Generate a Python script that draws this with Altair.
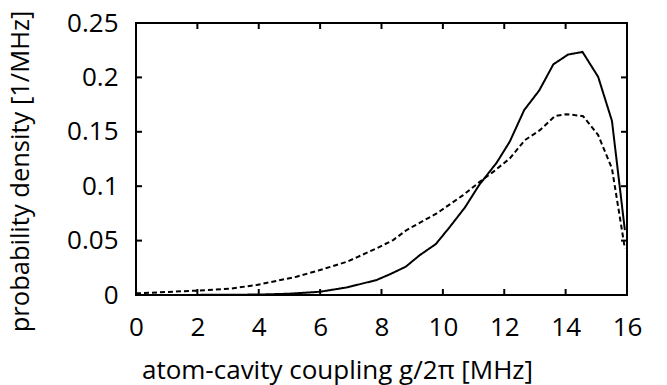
import altair as alt
import pandas as pd

solid_x = [0, 2, 4, 5, 6.0, 6.88, 7.84, 8.27, 8.79, 9.25, 9.77, 10.23, 10.72, 11.18,
           11.75, 12.18, 12.65, 13.14, 13.6, 14.08, 14.55, 15.06, 15.51, 15.93]
solid_y = [0, 0.0001, 0.0004, 0.0012, 0.003, 0.007, 0.0138, 0.019, 0.026, 0.0367, 0.0468,
           0.0627, 0.0805, 0.101, 0.1215, 0.141, 0.170, 0.188, 0.212, 0.221, 0.2234,
           0.2005, 0.160, 0.0597]
dashed_x = [0, 1.98, 3.06, 3.93, 5.23, 6.0, 6.88, 7.84, 8.38, 8.82, 9.8, 10.66, 11.2,
            11.64, 12.18, 12.67, 13.16, 13.65, 14.03, 14.57, 15.06, 15.51, 15.93]
dashed_y = [0.0015, 0.004, 0.0058, 0.0092, 0.0168, 0.023, 0.0306, 0.0429, 0.0505,
            0.0597, 0.075, 0.0918, 0.104, 0.1132, 0.1255, 0.1423, 0.1515, 0.1644,
            0.1662, 0.1644, 0.147, 0.1163, 0.0429]

x_ticks = [0, 2, 4, 6, 8, 10, 12, 14, 16]
y_ticks = [0, 0.05, 0.1, 0.15, 0.2, 0.25]

df = pd.DataFrame({
    "g": solid_x + dashed_x,
    "p": solid_y + dashed_y,
    "series": ["solid"] * len(solid_x) + ["dashed"] * len(dashed_x),
})
xt = pd.DataFrame({"t": x_ticks})
yt = pd.DataFrame({"t": y_ticks})

W, H = 491, 272
FONT = "Open Sans"
FS = 26
TFS = 26
YTFS = 25.5
TS = 6

xscale = alt.Scale(domain=[0, 16], nice=False, zero=False)
yscale = alt.Scale(domain=[0, 0.25], nice=False)

lines = alt.Chart(df).mark_line(color="black", strokeWidth=2).encode(
    x=alt.X("g:Q", scale=xscale,
            axis=alt.Axis(orient="bottom", values=x_ticks, ticks=False, tickSize=0,
                          domain=False, grid=False,
                          labelPadding=19, labelFont=FONT, labelFontSize=FS,
                          labelColor="black", labelFlush=False,
                          title="atom-cavity coupling g/2π [MHz]",
                          titleFont=FONT, titleFontSize=TFS, titleFontWeight="normal",
                          titleColor="black", titleX=201, titleY=83,
                          titleAlign="center", titleBaseline="alphabetic")),
    y=alt.Y("p:Q", scale=yscale,
            axis=alt.Axis(orient="left", values=y_ticks, format="~g", ticks=False,
                          tickSize=0, domain=False,
                          grid=False, labelPadding=18, labelFont=FONT,
                          labelFontSize=FS, labelColor="black", labelFlush=False,
                          labelBaseline="middle",
                          title="probability density [1/MHz]",
                          titleFont=FONT, titleFontSize=YTFS, titleFontWeight="normal",
                          titleColor="black", titleAngle=-90, titleX=-108,
                          titleY=148, titleAlign="center",
                          titleBaseline="alphabetic")),
    strokeDash=alt.StrokeDash("series:N",
                              scale=alt.Scale(domain=["solid", "dashed"],
                                              range=[[1, 0], [5, 3]]),
                              legend=None),
    detail="series:N",
)

# inward tick marks on all four sides of the frame
rule_x = alt.Chart(xt).mark_rule(color="black", strokeWidth=2)
rule_y = alt.Chart(yt).mark_rule(color="black", strokeWidth=2)
bottom_ticks = rule_x.encode(x=alt.X("t:Q", scale=xscale, axis=None),
                             y=alt.value(H), y2=alt.value(H - TS))
top_ticks = rule_x.encode(x=alt.X("t:Q", scale=xscale, axis=None),
                          y=alt.value(0), y2=alt.value(TS))
left_ticks = rule_y.encode(y=alt.Y("t:Q", scale=yscale, axis=None),
                           x=alt.value(0), x2=alt.value(TS))
right_ticks = rule_y.encode(y=alt.Y("t:Q", scale=yscale, axis=None),
                            x=alt.value(W), x2=alt.value(W - TS))

chart = alt.layer(lines, bottom_ticks, top_ticks, left_ticks, right_ticks).resolve_axis(
    x="independent", y="independent"
).properties(
    width=W, height=H,
    autosize=alt.AutoSizeParams(type="none"),
    padding={"left": 136, "top": 23, "right": 40, "bottom": 90},
    background="white",
).configure_view(
    stroke="black", strokeWidth=2
)

chart.save("out.html", embed_options={"renderer": "svg", "actions": False})
